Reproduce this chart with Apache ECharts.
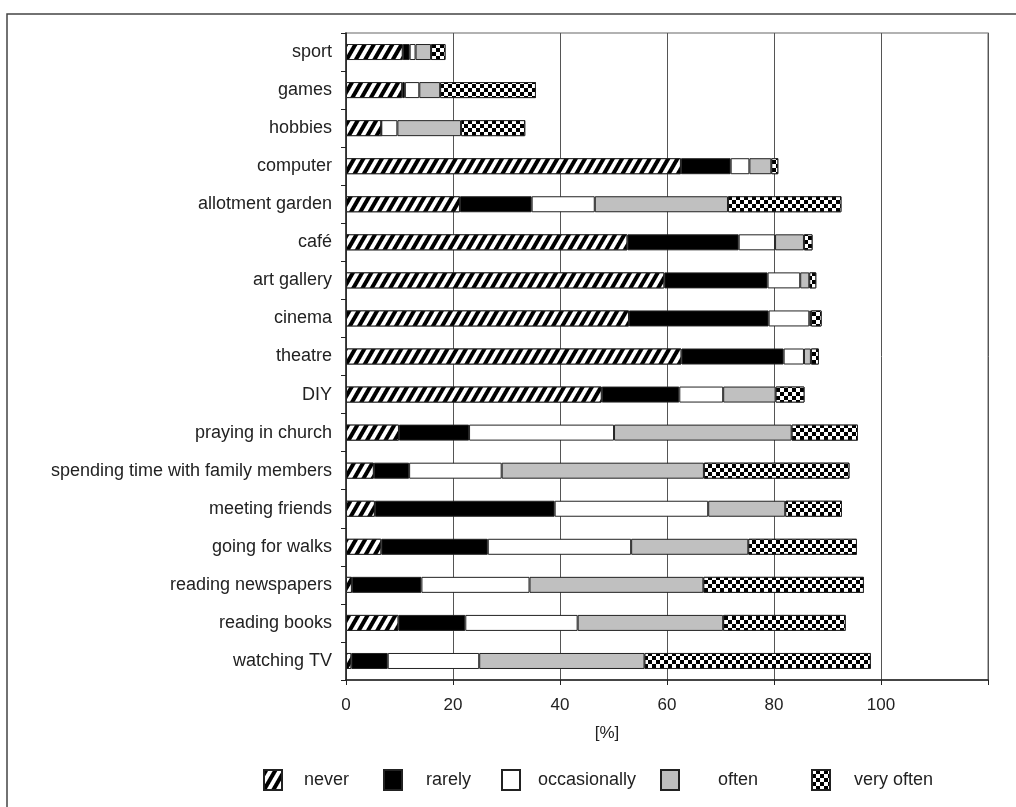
<!DOCTYPE html>
<html>
<head>
<meta charset="utf-8">
<script src="https://cdn.jsdelivr.net/npm/echarts@6/dist/echarts.min.js"></script>
<style>
html,body{margin:0;padding:0;background:#fff;}
#chart{width:1016px;height:807px;}
</style>
</head>
<body>
<div id="chart"></div>
<script>
var categories = ['sport','games','hobbies','computer','allotment garden','café','art gallery','cinema','theatre','DIY','praying in church','spending time with family members','meeting friends','going for walks','reading newspapers','reading books','watching TV'];
var never        = [10.6, 10.5, 6.6, 62.6, 21.3, 52.6, 59.5, 52.9, 62.7, 47.8, 9.9, 5.2, 5.4, 6.6, 1.1, 9.8, 1.0];
var rarely       = [1.3, 0.5, 0, 9.3, 13.4, 20.8, 19.3, 26.1, 19.1, 14.5, 13.1, 6.6, 33.6, 19.9, 13.0, 12.5, 6.8];
var occasionally = [1.1, 2.7, 3.0, 3.5, 11.8, 6.8, 6.1, 7.6, 3.8, 8.2, 27.1, 17.3, 28.7, 26.8, 20.2, 21.0, 17.1];
var often        = [2.9, 3.9, 11.9, 4.1, 24.9, 5.4, 1.7, 0.3, 1.3, 9.8, 33.2, 37.8, 14.4, 21.9, 32.5, 27.2, 30.9];
var veryOften    = [2.7, 17.9, 12.0, 1.3, 21.2, 1.6, 1.3, 2.0, 1.5, 5.4, 12.4, 27.2, 10.6, 20.3, 30.0, 22.9, 42.3];
var xTicks = [0, 20, 40, 60, 80, 100];
var seriesNames = ['never','rarely','occasionally','often','very often'];

var FONT = 'Liberation Sans, Arial, sans-serif';
var hatch = {symbol:'rect', symbolSize:1, color:'#000', backgroundColor:'#fff', dashArrayX:[1,0], dashArrayY:[3.6,3.4], rotation:-Math.PI/3};
var checker = {symbol:'rect', symbolSize:1, color:'#000', backgroundColor:'#fff', dashArrayX:[[4,4],[0,4,4,0]], dashArrayY:[4,0], rotation:0};

function mk(name, data, color, decal){
  var it = {color: color, borderColor:'#222', borderWidth:1};
  if (decal) it.decal = decal;
  return {name:name, type:'bar', stack:'all', data:data, barWidth:16, itemStyle:it, emphasis:{disabled:true}, animation:false};
}

var legendLeft = [258, 378, 496, 655, 806];
var legendPad  = [17, 19, 13, 34, 19];
var legends = seriesNames.map(function(n,i){
  return {data:[n], left:legendLeft[i], top:764, itemWidth:18, itemHeight:20, icon:'rect',
    textStyle:{fontFamily:FONT, fontSize:18, color:'#222', padding:[0,0,0,legendPad[i]]}, selectedMode:false};
});

var chart = echarts.init(document.getElementById('chart'), null, {renderer:'canvas'});
chart.setOption({
  animation:false,
  backgroundColor:'#fff',
  legend: legends,
  grid:{left:346, right:28, top:33, bottom:127, show:true, borderColor:'#999', borderWidth:1.5, backgroundColor:'transparent'},
  xAxis:{type:'value', min:0, max:120, interval:20,
    axisLine:{show:true, lineStyle:{color:'#222', width:1.5}},
    axisTick:{show:true, length:5, lineStyle:{color:'#222'}},
    axisLabel:{margin:17, fontFamily:FONT, fontSize:17, color:'#222',
      formatter:function(v){return xTicks.indexOf(v)>=0 ? String(v) : '';}},
    splitLine:{show:true, lineStyle:{color:'#555', width:1}}
  },
  yAxis:{type:'category', data:categories, inverse:true,
    axisLine:{show:true, lineStyle:{color:'#222', width:1.5}},
    axisTick:{show:true, length:5, alignWithLabel:false, lineStyle:{color:'#222'}},
    axisLabel:{margin:14, fontFamily:FONT, fontSize:18, color:'#222'},
    splitLine:{show:false}
  },
  graphic:[
    {type:'rect', shape:{x:7, y:14, width:1200, height:900}, style:{fill:'none', stroke:'#444', lineWidth:1.5}, silent:true},
    {type:'text', x:607, y:733, style:{text:'[%]', fontFamily:FONT, fontSize:17, fill:'#222', textAlign:'center', textVerticalAlign:'middle'}, silent:true}
  ],
  series:[
    mk('never', never, '#fff', hatch),
    mk('rarely', rarely, '#000'),
    mk('occasionally', occasionally, '#fff'),
    mk('often', often, '#c0c0c0'),
    mk('very often', veryOften, '#fff', checker)
  ]
});
</script>
</body>
</html>
